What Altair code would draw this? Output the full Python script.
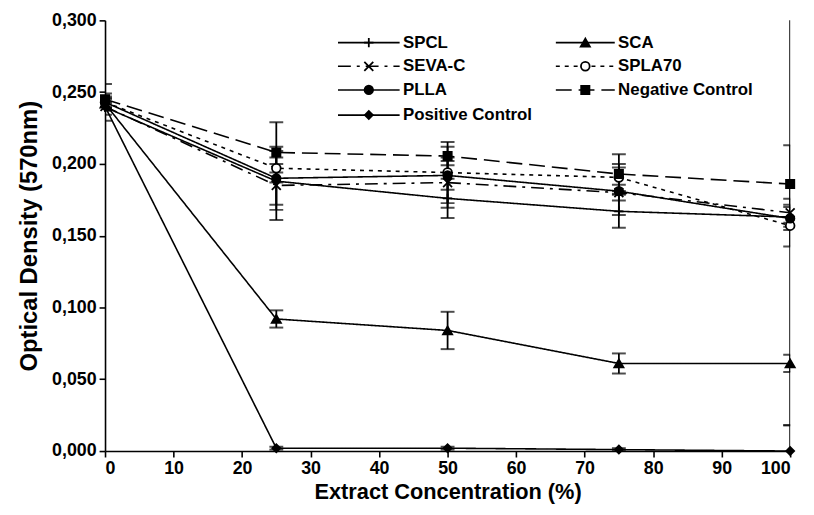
import altair as alt
import pandas as pd

# ---------------- data ----------------
conc = [0, 25, 50, 75, 100]
series_names = ["SPCL", "SCA", "SEVA-C", "SPLA70", "PLLA", "Negative Control", "Positive Control"]

spcl = [0.2395, 0.188, 0.176, 0.167, 0.163]
spcl_err = [0.0095, 0.0165, 0.0137, 0.0115, 0.145]
sca = [0.242, 0.092, 0.084, 0.061, 0.061]
sca_err = [0.003, 0.006, 0.013, 0.007, 0.006]
seva = [0.240, 0.185, 0.187, 0.180, 0.166]
seva_err = [0.003, 0.024, 0.0175, 0.0055, 0.0097]
spla70 = [0.243, 0.197, 0.194, 0.1906, 0.157]
spla70_err = [0.004, 0.003, 0.0213, 0.0094, 0.0145]
plla = [0.243, 0.190, 0.192, 0.181, 0.162]
plla_err = [0.003, 0.022, 0.010, 0.0165, 0.008]
neg = [0.245, 0.208, 0.2055, 0.193, 0.186]
neg_err = [0.0107, 0.021, 0.0065, 0.0137, 0.027]
pos = [0.240, 0.002, 0.002, 0.001, 0.000]
pos_err = [0.002, 0.001, 0.001, 0.001, 0.018]

means = [spcl, sca, seva, spla70, plla, neg, pos]
errs = [spcl_err, sca_err, seva_err, spla70_err, plla_err, neg_err, pos_err]

# ---------------- styles ----------------
PLUS = "M-1,0L1,0M0,-1L0,1"
XSHAPE = "M-1,-1L1,1M1,-1L-1,1"
shapes = [PLUS, "triangle-up", XSHAPE, "circle", "circle", "square", "diamond"]
fills = ["black", "black", "black", "white", "black", "black", "black"]
dashes = [[1, 0], [1, 0], [13, 6, 3, 6], [4, 5], [1, 0], [16, 7], [1, 0]]
widths = [1.6, 1.6, 2.2, 2.6, 2.4, 2.4, 2.0]
sizes = [90, 65, 60, 45, 60, 60, 75]

rows = []
for name, m, e in zip(series_names, means, errs):
    for x, v, d in zip(conc, m, e):
        rows.append({"series": name, "conc": x, "od": v, "lo": v - d, "hi": v + d})
df = pd.DataFrame(rows)

# legend layout (two columns, four rows) in data units of the plot
leg_col = [0, 1, 0, 1, 0, 1, 0]
leg_row = [0, 0, 1, 1, 2, 2, 3]
col_line_x = [(34.0, 43.0), (65.8, 74.4)]
col_text_x = [43.2, 74.6]
row_y = [0.2845, 0.268, 0.2515, 0.2340]
leg_lines, leg_pts, leg_txt = [], [], []
for name, c, r in zip(series_names, leg_col, leg_row):
    x0, x1 = col_line_x[c]
    y = row_y[r]
    leg_lines += [{"series": name, "lx": x0, "ly": y}, {"series": name, "lx": x1, "ly": y}]
    leg_pts.append({"series": name, "lx": (x0 + x1) / 2, "ly": y})
    leg_txt.append({"series": name, "lx": col_text_x[c], "ly": y})
leg_lines = pd.DataFrame(leg_lines)
leg_pts = pd.DataFrame(leg_pts)
leg_txt = pd.DataFrame(leg_txt)

# ---------------- encodings ----------------
xscale = alt.Scale(domain=[0, 100], nice=False)
yscale = alt.Scale(domain=[0, 0.3], nice=False)

shape_enc = alt.Shape("series:N", scale=alt.Scale(domain=series_names, range=shapes), legend=None)
fill_enc = alt.Fill("series:N", scale=alt.Scale(domain=series_names, range=fills), legend=None)
dash_enc = alt.StrokeDash("series:N", scale=alt.Scale(domain=series_names, range=dashes), legend=None)
width_enc = alt.StrokeWidth("series:N", scale=alt.Scale(domain=series_names, range=widths), legend=None)
size_enc = alt.Size("series:N", scale=alt.Scale(domain=series_names, range=sizes), legend=None)

x_axis = alt.Axis(values=list(range(0, 101, 10)), title="Extract Concentration (%)")
y_axis = alt.Axis(
    values=[0, 0.05, 0.1, 0.15, 0.2, 0.25, 0.3], title="Optical Density (570nm)",
    labelExpr="replace(format(datum.value, '.3f'), '.', ',')",
)

base = alt.Chart(df)

err_rule = base.mark_rule(color="black", strokeWidth=1.8, clip=True).encode(
    x=alt.X("conc:Q", scale=xscale, axis=x_axis),
    y=alt.Y("lo:Q", scale=yscale, axis=y_axis),
    y2="hi:Q",
)
cap_lo = base.mark_tick(color="black", orient="horizontal", size=14, thickness=2, clip=True).encode(
    x="conc:Q", y="lo:Q"
)
cap_hi = base.mark_tick(color="black", orient="horizontal", size=14, thickness=2, clip=True).encode(
    x="conc:Q", y="hi:Q"
)
lines = base.mark_line(color="black").encode(
    x="conc:Q", y="od:Q", detail="series:N", strokeDash=dash_enc, strokeWidth=width_enc,
    order="conc:Q",
)
points = base.mark_point(filled=False, stroke="black", strokeWidth=1.8, opacity=1, fillOpacity=1).encode(
    x="conc:Q", y="od:Q", shape=shape_enc, fill=fill_enc, size=size_enc,
)

leg_l = alt.Chart(leg_lines).mark_line(color="black").encode(
    x="lx:Q", y="ly:Q", detail="series:N", strokeDash=dash_enc, strokeWidth=width_enc,
)
leg_p = alt.Chart(leg_pts).mark_point(filled=False, stroke="black", strokeWidth=1.8, opacity=1, fillOpacity=1).encode(
    x="lx:Q", y="ly:Q", shape=shape_enc, fill=fill_enc, size=size_enc,
)
leg_t = alt.Chart(leg_txt).mark_text(
    align="left", baseline="middle", font="Liberation Sans", fontWeight="bold", fontSize=17, color="black", dx=2
).encode(x="lx:Q", y="ly:Q", text="series:N")

chart = alt.layer(err_rule, cap_lo, cap_hi, lines, points, leg_l, leg_p, leg_t).properties(
    width=692, height=435,
    autosize=alt.AutoSizeParams(type="none"),
    padding={"left": 98, "top": 10, "right": 16, "bottom": 52},
).configure_view(stroke=None).configure_axis(
    grid=False, domainColor="black", domainWidth=1.6, tickColor="black", tickWidth=1.6, tickSize=6,
    labelFont="Liberation Sans", labelFontWeight="bold", labelFontSize=18, labelColor="black",
    titleFont="Liberation Sans", titleFontWeight="bold", labelPadding=3, titleColor="black",
).configure_axisX(titlePadding=4, titleFontSize=22).configure_axisY(titlePadding=10, titleFontSize=24)

chart.save("out.html", embed_options={"renderer": "svg", "actions": False})
